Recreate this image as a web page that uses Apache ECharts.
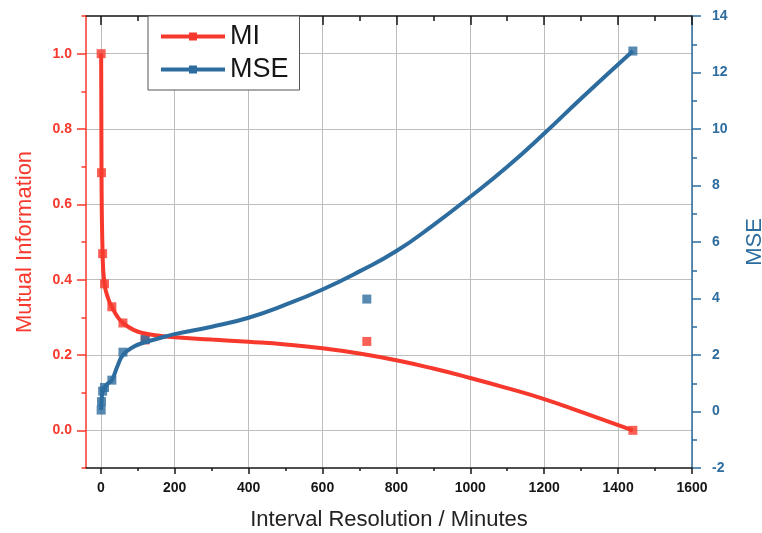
<!DOCTYPE html>
<html>
<head>
<meta charset="utf-8">
<title>Mutual Information and MSE vs Interval Resolution</title>
<script src="https://cdn.jsdelivr.net/npm/echarts@6.0.0/dist/echarts.min.js"></script>
<style>
  html, body { margin: 0; padding: 0; background: #fff; }
  #chart { width: 762px; height: 533px; }
</style>
</head>
<body>
<div id="chart"></div>
<script>
// measured points, interval resolution in minutes
const intervals = [1, 2, 5, 10, 30, 60, 120, 720, 1440]
const miPoints = [1.0, 0.684, 0.469, 0.389, 0.328, 0.285, 0.24, 0.236, 0.0]
const msePoints = [0.05, 0.35, 0.72, 0.85, 1.11, 2.1, 2.55, 3.98, 12.76]

// fitted curves
const fitX = [1, 2, 5, 10, 20, 30, 45, 60, 90, 120, 160, 200, 300, 400, 500, 600, 700, 800, 900, 1000, 1100, 1200, 1300, 1440]
const miFit = [1.0, 0.684, 0.469, 0.389, 0.35, 0.328, 0.302, 0.285, 0.266, 0.257, 0.251, 0.247, 0.241, 0.235, 0.228, 0.218, 0.204, 0.186, 0.164, 0.139, 0.112, 0.083, 0.049, 0.0]
const mseFit = [0.05, 0.35, 0.72, 0.85, 1.0, 1.11, 1.6, 2.0, 2.3, 2.45, 2.6, 2.74, 3.0, 3.32, 3.78, 4.32, 4.96, 5.68, 6.6, 7.6, 8.66, 9.84, 11.08, 12.76]

// axis ticks
const xMajor = [0, 200, 400, 600, 800, 1000, 1200, 1400, 1600]
const xMinor = [100, 300, 500, 700, 900, 1100, 1300, 1500]
const miMajor = [0, 0.2, 0.4, 0.6, 0.8, 1.0]
const miMinor = [-0.1, 0.1, 0.3, 0.5, 0.7, 0.9, 1.1]

const red = '#f7382c'
const blue = '#2d6c9e'
const ink = '#161616'
const font = 'Liberation Sans, Arial, sans-serif'

const chart = echarts.init(document.getElementById('chart'))

function minorAxis(position, min, max, values, color, len, inside) {
  return {
    type: 'value',
    position,
    min,
    max,
    axisLine: { show: false, onZero: false },
    axisTick: { show: true, inside, customValues: values, length: len, lineStyle: { color, width: 1.5 } },
    axisLabel: { show: false },
    splitLine: { show: false },
  }
}

const option = {
  animation: false,
  backgroundColor: '#fff',
  textStyle: { fontFamily: font },
  grid: { left: 86, right: 70, top: 16, bottom: 65, containLabel: false, outerBoundsMode: 'none' },
  legend: {
    data: ['MI', 'MSE'],
    orient: 'vertical',
    left: 148,
    top: 16,
    itemWidth: 64,
    itemHeight: 10,
    itemGap: 6,
    padding: [7, 11, 7, 11],
    borderColor: '#555',
    borderWidth: 1,
    backgroundColor: '#fff',
    z: 10,
    lineStyle: { width: 4 },
    textStyle: { fontSize: 27, color: ink, fontFamily: font },
  },
  xAxis: [
    {
      type: 'value',
      position: 'bottom',
      min: -40,
      max: 1600,
      name: 'Interval Resolution / Minutes',
      nameLocation: 'middle',
      nameGap: 41,
      nameTextStyle: { fontSize: 22, color: '#222', fontFamily: font },
      axisLine: { show: true, onZero: false, lineStyle: { color: ink, width: 1.5 } },
      axisTick: { show: true, customValues: xMajor, length: 6, lineStyle: { color: ink, width: 1.5 } },
      axisLabel: {
        customValues: xMajor,
        margin: 13,
        fontSize: 14,
        fontWeight: 'bold',
        color: ink,
        formatter: (v) => String(v),
      },
      splitLine: { show: true, lineStyle: { color: '#bdbdbd', width: 1 } },
    },
    minorAxis('bottom', -40, 1600, xMinor, ink, 3, false),
    {
      type: 'value',
      position: 'top',
      min: -40,
      max: 1600,
      axisLine: { show: true, onZero: false, lineStyle: { color: ink, width: 1.5 } },
      axisTick: { show: true, inside: true, customValues: xMajor, length: 9, lineStyle: { color: ink, width: 1.5 } },
      axisLabel: { show: false },
      splitLine: { show: false },
    },
    minorAxis('top', -40, 1600, xMinor, ink, 5, true),
  ],
  yAxis: [
    {
      type: 'value',
      position: 'left',
      min: -0.1,
      max: 1.1,
      name: 'Mutual Information',
      nameLocation: 'middle',
      nameGap: 50,
      nameTextStyle: { fontSize: 22, color: red, fontFamily: font },
      axisLine: { show: true, onZero: false, lineStyle: { color: red, width: 1.5 } },
      axisTick: { show: true, customValues: miMajor, length: 9, lineStyle: { color: red, width: 1.5 } },
      axisLabel: {
        customValues: miMajor,
        margin: 14,
        fontSize: 14,
        fontWeight: 'bold',
        color: red,
        formatter: (v) => v.toFixed(1),
      },
      splitLine: { show: true, lineStyle: { color: '#bdbdbd', width: 1 } },
    },
    minorAxis('left', -0.1, 1.1, miMinor, red, 4.5, false),
    {
      type: 'value',
      position: 'right',
      min: -2,
      max: 14,
      interval: 2,
      name: 'MSE',
      nameLocation: 'middle',
      nameGap: 52,
      nameTextStyle: { fontSize: 22, color: blue, fontFamily: font },
      axisLine: { show: true, onZero: false, lineStyle: { color: blue, width: 1.5 } },
      axisTick: { show: true, length: 9, lineStyle: { color: blue, width: 1.5 } },
      minorTick: { show: true, splitNumber: 2, length: 5, lineStyle: { color: blue, width: 1.5 } },
      axisLabel: { margin: 20, fontSize: 14, fontWeight: 'bold', color: blue },
      splitLine: { show: false },
    },
  ],
  series: [
    {
      name: 'MI',
      type: 'line',
      xAxisIndex: 0,
      yAxisIndex: 0,
      data: fitX.map((x, i) => [x, miFit[i]]),
      smooth: 0.5,
      showSymbol: false,
      symbol: 'rect',
      symbolSize: 10,
      lineStyle: { color: red, width: 4 },
      itemStyle: { color: red },
    },
    {
      name: 'MI points',
      type: 'scatter',
      xAxisIndex: 0,
      yAxisIndex: 0,
      data: intervals.map((x, i) => [x, miPoints[i]]),
      symbol: 'rect',
      symbolSize: 9,
      itemStyle: { color: red },
    },
    {
      name: 'MSE',
      type: 'line',
      xAxisIndex: 0,
      yAxisIndex: 2,
      data: fitX.map((x, i) => [x, mseFit[i]]),
      smooth: 0.5,
      showSymbol: false,
      symbol: 'rect',
      symbolSize: 10,
      lineStyle: { color: blue, width: 4 },
      itemStyle: { color: blue },
    },
    {
      name: 'MSE points',
      type: 'scatter',
      xAxisIndex: 0,
      yAxisIndex: 2,
      data: intervals.map((x, i) => [x, msePoints[i]]),
      symbol: 'rect',
      symbolSize: 9,
      itemStyle: { color: blue },
    },
  ],
}

chart.setOption(option)
</script>
</body>
</html>
